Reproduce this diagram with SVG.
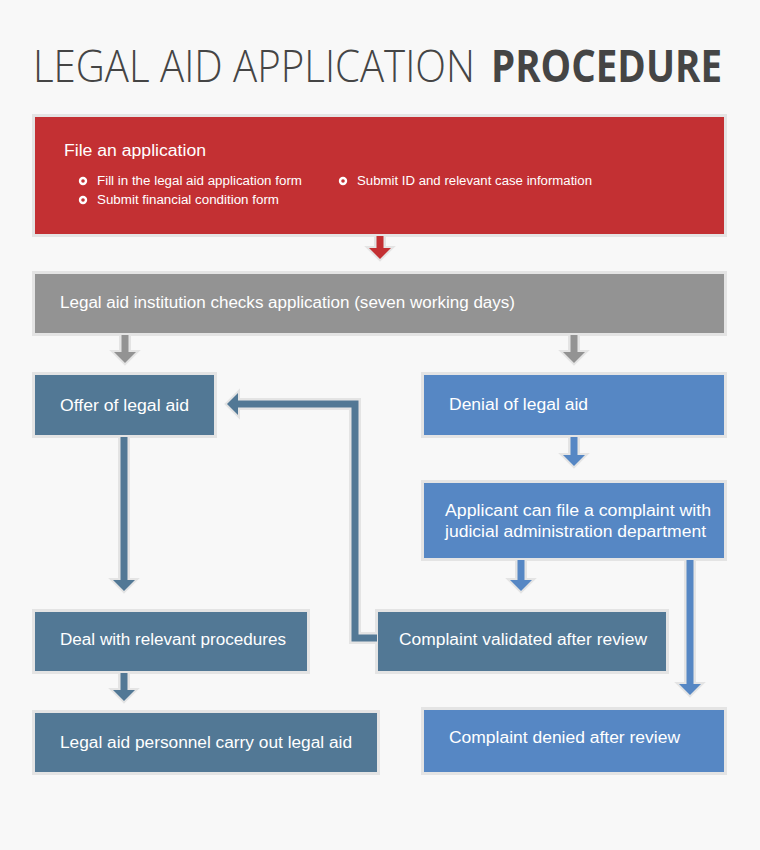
<svg xmlns="http://www.w3.org/2000/svg" width="760" height="850" viewBox="0 0 760 850">
<style>
.bg{fill:#f8f8f8}
.box{stroke:#e4e4e4;stroke-width:3}
.red{fill:#c33033}
.gray{fill:#939393}
.steel{fill:#527895}
.blue{fill:#5687c4}
.t{font-family:"Liberation Sans",Arial,sans-serif;fill:#ffffff;font-size:16px}
.small{font-size:12px}
.title{font-family:"Open Sans","Liberation Sans",sans-serif;font-size:44px;fill:#454545}
.halo{fill:none;stroke:#e4e4e4;stroke-width:12}
.hhalo{fill:#e4e4e4;stroke:#e4e4e4;stroke-width:4;stroke-linejoin:miter}
.shaft{fill:none;stroke-width:7}
.s-red{stroke:#c33033}.s-gray{stroke:#939393}.s-steel{stroke:#527895}.s-blue{stroke:#5687c4}
.bullet{fill:#ffffff}
</style>
<rect class="bg" x="0" y="0" width="760" height="850"/>
<g id="title">
<text class="title" x="33" y="82" font-weight="300" font-size="41" textLength="442" lengthAdjust="spacingAndGlyphs">LEGAL AID APPLICATION</text>
<text class="title" x="491" y="82" font-weight="700" textLength="231" lengthAdjust="spacingAndGlyphs">PROCEDURE</text>
</g>
<g id="file-application">
<rect class="box red" x="33.5" y="115.5" width="692" height="120"/>
<text class="t" x="64" y="156" font-size="17" textLength="142" lengthAdjust="spacingAndGlyphs">File an application</text>
<circle class="bullet" cx="83" cy="181" r="4.2"/><circle class="red" cx="83" cy="181" r="1.8"/>
<circle class="bullet" cx="343" cy="181" r="4.2"/><circle class="red" cx="343" cy="181" r="1.8"/>
<circle class="bullet" cx="83" cy="200" r="4.2"/><circle class="red" cx="83" cy="200" r="1.8"/>
<text class="t small" x="97" y="185" textLength="205" lengthAdjust="spacingAndGlyphs">Fill in the legal aid application form</text>
<text class="t small" x="357" y="185" textLength="235" lengthAdjust="spacingAndGlyphs">Submit ID and relevant case information</text>
<text class="t small" x="97" y="204" textLength="182" lengthAdjust="spacingAndGlyphs">Submit financial condition form</text>
</g>
<g id="checks">
<rect class="box gray" x="33.5" y="272.5" width="692" height="62"/>
<text class="t" x="60" y="308" textLength="455" lengthAdjust="spacingAndGlyphs">Legal aid institution checks application (seven working days)</text>
</g>
<g id="offer">
<rect class="box steel" x="33.5" y="373.5" width="182" height="63"/>
<text class="t" x="60" y="411" textLength="129" lengthAdjust="spacingAndGlyphs">Offer of legal aid</text>
</g>
<g id="denial">
<rect class="box blue" x="422.5" y="373.5" width="303" height="63"/>
<text class="t" x="449" y="410" textLength="139" lengthAdjust="spacingAndGlyphs">Denial of legal aid</text>
</g>
<g id="complaint-filing">
<rect class="box blue" x="422.5" y="481.5" width="303" height="78"/>
<text class="t" x="445" y="516" textLength="266" lengthAdjust="spacingAndGlyphs">Applicant can file a complaint with</text>
<text class="t" x="445" y="537" textLength="261" lengthAdjust="spacingAndGlyphs">judicial administration department</text>
</g>
<g id="deal">
<rect class="box steel" x="33.5" y="610.5" width="275" height="62"/>
<text class="t" x="60" y="645" textLength="226" lengthAdjust="spacingAndGlyphs">Deal with relevant procedures</text>
</g>
<g id="validated">
<rect class="box steel" x="376.5" y="610.5" width="291" height="62"/>
<text class="t" x="399" y="645" textLength="248" lengthAdjust="spacingAndGlyphs">Complaint validated after review</text>
</g>
<g id="personnel">
<rect class="box steel" x="33.5" y="711.5" width="345" height="62"/>
<text class="t" x="60" y="748" textLength="292" lengthAdjust="spacingAndGlyphs">Legal aid personnel carry out legal aid</text>
</g>
<g id="denied">
<rect class="box blue" x="422.5" y="708.5" width="303" height="65"/>
<text class="t" x="449" y="743" textLength="231" lengthAdjust="spacingAndGlyphs">Complaint denied after review</text>
</g>
<g id="connectors">
<path class="halo" d="M380 236 V248 M125 335 V352 M574 335 V352 M124 437 V580 M574 437 V455 M521 560 V580 M690 560 V684 M124 673 V690 M376 638 H355 V404 H238"/>
<polygon class="hhalo" points="369,248 391,248 380,259"/>
<polygon class="hhalo" points="114,352 136,352 125,363"/>
<polygon class="hhalo" points="563,352 585,352 574,363"/>
<polygon class="hhalo" points="113,580 135,580 124,591"/>
<polygon class="hhalo" points="563,455 585,455 574,466"/>
<polygon class="hhalo" points="510,580 532,580 521,591"/>
<polygon class="hhalo" points="679,684 701,684 690,695"/>
<polygon class="hhalo" points="113,690 135,690 124,701"/>
<polygon class="hhalo" points="238,393 238,415 227,404"/>
<path class="shaft s-red" d="M380 236 V249"/>
<polygon class="red" points="369,248 391,248 380,259"/>
<path class="shaft s-gray" d="M125 335 V353 M574 335 V353"/>
<polygon class="gray" points="114,352 136,352 125,363"/>
<polygon class="gray" points="563,352 585,352 574,363"/>
<path class="shaft s-steel" d="M124 437 V581 M124 673 V691 M377 638 H355 V404 H237"/>
<polygon class="steel" points="113,580 135,580 124,591"/>
<polygon class="steel" points="113,690 135,690 124,701"/>
<polygon class="steel" points="238,393 238,415 227,404"/>
<path class="shaft s-blue" d="M574 437 V456 M521 560 V581 M690 560 V685"/>
<polygon class="blue" points="563,455 585,455 574,466"/>
<polygon class="blue" points="510,580 532,580 521,591"/>
<polygon class="blue" points="679,684 701,684 690,695"/>
</g>
</svg>
